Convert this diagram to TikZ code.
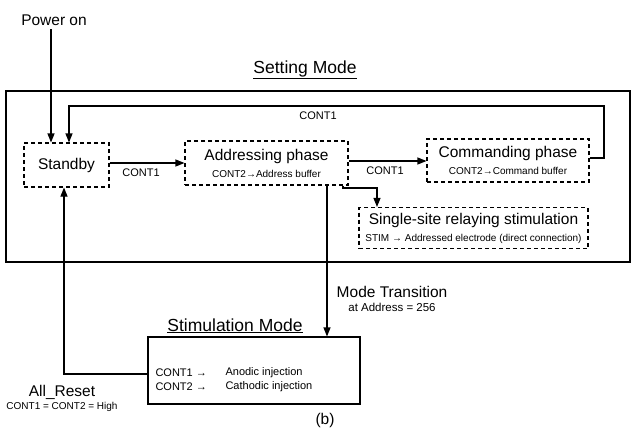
\documentclass[tikz,border=0pt]{standalone}
\usepackage{fontspec}
\setmainfont{Liberation Sans}
\usetikzlibrary{arrows.meta}
\begin{document}
\begin{tikzpicture}[x=1pt,y=-1pt,
  line width=1.1pt,
  >={Triangle[length=9pt,width=7pt]},
  dbox/.style={draw,dash pattern=on 4pt off 3pt,line width=1.1pt,inner sep=0pt,align=center,
    font=\fontsize{15.5}{17}\selectfont},
  sbox/.style={draw,line width=1.1pt,inner sep=0pt},
  big/.style={font=\fontsize{15.5}{17}\selectfont,inner sep=0pt},
  head/.style={font=\fontsize{17.5}{20}\selectfont,inner sep=0pt},
  lbl/.style={font=\fontsize{11}{13}\selectfont,inner sep=0pt},
  tiny/.style={font=\fontsize{10}{12}\selectfont,inner sep=0pt},
]
\useasboundingbox (0,0) rectangle (633,429);

% outer Setting Mode frame
\node[sbox,minimum width=624pt,minimum height=171pt] (setting) at (318,176.5) {};
\node[head,anchor=base] (settitle) at (305,73) {\underline{Setting Mode}};

% boxes
\node[dbox,minimum width=85pt,minimum height=44pt] (standby) at (66.5,165) {Standby};
\node[dbox,minimum width=163pt,minimum height=44pt] (addr) at (266.5,163)
  {Addressing phase\\{\fontsize{10}{12}\selectfont CONT2→Address buffer}};
\node[dbox,minimum width=162pt,minimum height=43pt] (cmd) at (508,160.5)
  {Commanding phase\\{\fontsize{10}{12}\selectfont CONT2→Command buffer}};
\node[dbox,minimum width=229pt,minimum height=41pt] (single) at (473.5,228)
  {Single-site relaying stimulation\\{\fontsize{10}{12}\selectfont STIM → Addressed electrode (direct connection)}};

\node[sbox,minimum width=212pt,minimum height=67pt] (stim) at (254,370.5) {};
\node[head,anchor=base] (stimtitle) at (235,331) {\underline{Stimulation Mode}};
\node[lbl,anchor=west] (c1) at (155,373) {CONT1 →};
\node[lbl,anchor=west] (c1r) at (225,373) {Anodic injection};
\node[lbl,anchor=west] (c2) at (155,387) {CONT2 →};
\node[lbl,anchor=west] (c2r) at (225,387) {Cathodic injection};

% texts
\node[big] (power) at (54,20) {Power on};
\coordinate (pstart) at (51,29);
\node[lbl] (lt1) at (318,116) {CONT1};
\node[lbl] (lt2) at (141,173) {CONT1};
\node[lbl] (lt3) at (385,171) {CONT1};
\node[big] (mt) at (392,292) {Mode Transition};
\node[font=\fontsize{11.5}{13}\selectfont,inner sep=0pt] (mt2) at (392,307) {at Address = 256};
\node[big] (reset) at (62,392) {All\_Reset};
\node[tiny] (reset2) at (62,407) {CONT1 = CONT2 = High};
\node[big] (b) at (325,420) {(b)};

% connectors
\draw[->] (pstart) -- (pstart |- standby.north);
\draw[->] (cmd.east |- 0,158) -- (604,158) -- (604,106) -- (69,106) -- (69,0 |- standby.north);
\draw[->] (standby.east |- 0,163) -- (addr.west |- 0,163);
\draw[->] (addr.east |- 0,161) -- (cmd.west |- 0,161);
\draw[->] (343,0 |- addr.south) -- (343,188) -- (377,188) -- (377,0 |- single.north);
\draw[->] (327,0 |- addr.south) -- (327,0 |- stim.north);
\draw[->] (stim.west |- 0,374) -- (64,374) -- (64,0 |- standby.south);
\end{tikzpicture}
\end{document}
